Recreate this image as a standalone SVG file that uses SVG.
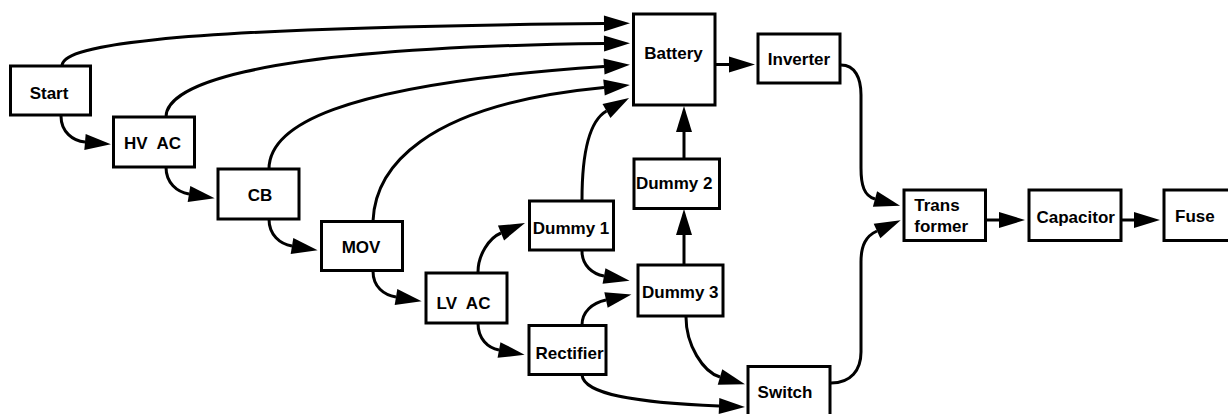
<svg xmlns="http://www.w3.org/2000/svg" width="1228" height="414" viewBox="0 0 1228 414">
<style>
.box{fill:#fff;stroke:#000;stroke-width:3}
.lbl{font-family:"Liberation Sans",Arial,sans-serif;font-weight:bold;font-size:17px;fill:#000}
.mid{text-anchor:middle}
.edge{fill:none;stroke:#000;stroke-width:3;marker-end:url(#ah)}
</style>
<defs>
<marker id="ah" markerWidth="27" markerHeight="16" refX="0" refY="8" orient="auto" markerUnits="userSpaceOnUse" overflow="visible">
<path d="M0,0 L26,8 L0,16 z" fill="#000"/>
</marker>
</defs>
<rect width="1228" height="414" fill="#fff"/>
<g id="connectors">
<path class="edge" d="M62,66 C62,48 130,28 604,23.5"/>
<path class="edge" d="M166,117 C166,90 230,48 604,43.5"/>
<path class="edge" d="M269,169 C269,128 330,85 604,66.5"/>
<path class="edge" d="M373,221 C375,170 420,105 604,87.5"/>
<path class="edge" d="M582,200 C582,155 589,121 606.5,111"/>
<path class="edge" d="M716,64.5 L729,64.5"/>
<path class="edge" d="M684,159 L684,132"/>
<path class="edge" d="M684,264 L684,235"/>
<path class="edge" d="M61,116 C61,132 73,141 85,142"/>
<path class="edge" d="M166,167 C166,183 177,192 189,194"/>
<path class="edge" d="M269,219 C269,235 280,244 292,246"/>
<path class="edge" d="M373,271 C373,287 384,295 396,297"/>
<path class="edge" d="M478,323 C478,339 488,348 499,350"/>
<path class="edge" d="M582,251 C582,266 593,274 604,276"/>
<path class="edge" d="M478,272 C478,255 489,238 501,233"/>
<path class="edge" d="M582,325 C582,312 592,303 606,300"/>
<path class="edge" d="M686,317 C686,345 703,372 720,377"/>
<path class="edge" d="M582,375 C584,395 640,403 719,406"/>
<path class="edge" d="M841,65 C855,65 861,78 861,95 L861,168 C861,185 864,196 875,199"/>
<path class="edge" d="M831,383 C851,383 861,370 861,352 L861,262 C861,245 866,236 877,231"/>
<path class="edge" d="M986,220 L999,220"/>
<path class="edge" d="M1122,220 L1134,220"/>
</g>
<g id="start"><rect class="box" x="10.5" y="66" width="80" height="49"/><text class="lbl mid" x="49" y="99">Start</text></g>
<g id="hvac"><rect class="box" x="113.5" y="117" width="81" height="50"/><text class="lbl mid" x="152.5" y="149" xml:space="preserve">HV  AC</text></g>
<g id="cb"><rect class="box" x="218" y="169" width="81" height="50"/><text class="lbl mid" x="260" y="201">CB</text></g>
<g id="mov"><rect class="box" x="321.5" y="221.5" width="81" height="49"/><text class="lbl mid" x="361" y="253">MOV</text></g>
<g id="lvac"><rect class="box" x="426" y="273" width="81" height="50"/><text class="lbl mid" x="463.5" y="309" xml:space="preserve">LV  AC</text></g>
<g id="dummy1"><rect class="box" x="529.5" y="201" width="84" height="49"/><text class="lbl mid" x="571" y="234">Dummy 1</text></g>
<g id="rectifier"><rect class="box" x="529" y="325.5" width="77" height="49"/><text class="lbl mid" x="569.5" y="359">Rectifier</text></g>
<g id="dummy3"><rect class="box" x="638" y="265" width="85" height="51"/><text class="lbl mid" x="680.3" y="298">Dummy 3</text></g>
<g id="dummy2"><rect class="box" x="634" y="159" width="85.5" height="49.5"/><text class="lbl mid" x="674.2" y="189">Dummy 2</text></g>
<g id="battery"><rect class="box" x="633.5" y="14" width="81.5" height="91"/><text class="lbl mid" x="673.5" y="59">Battery</text></g>
<g id="inverter"><rect class="box" x="758" y="34" width="82" height="49"/><text class="lbl mid" x="799" y="65">Inverter</text></g>
<g id="switch"><rect class="box" x="748" y="366.5" width="82" height="50"/><text class="lbl mid" x="785" y="397.7">Switch</text></g>
<g id="transformer"><rect class="box" x="904" y="190" width="81.5" height="50.5"/><text class="lbl" x="914.3" y="211">Trans</text><text class="lbl" x="914.3" y="231.7">former</text></g>
<g id="capacitor"><rect class="box" x="1029" y="190" width="92" height="50.5"/><text class="lbl mid" x="1075.7" y="222.7">Capacitor</text></g>
<g id="fuse"><rect class="box" x="1164" y="190" width="80" height="50.5"/><text class="lbl" x="1175" y="221.7">Fuse</text></g>
</svg>
